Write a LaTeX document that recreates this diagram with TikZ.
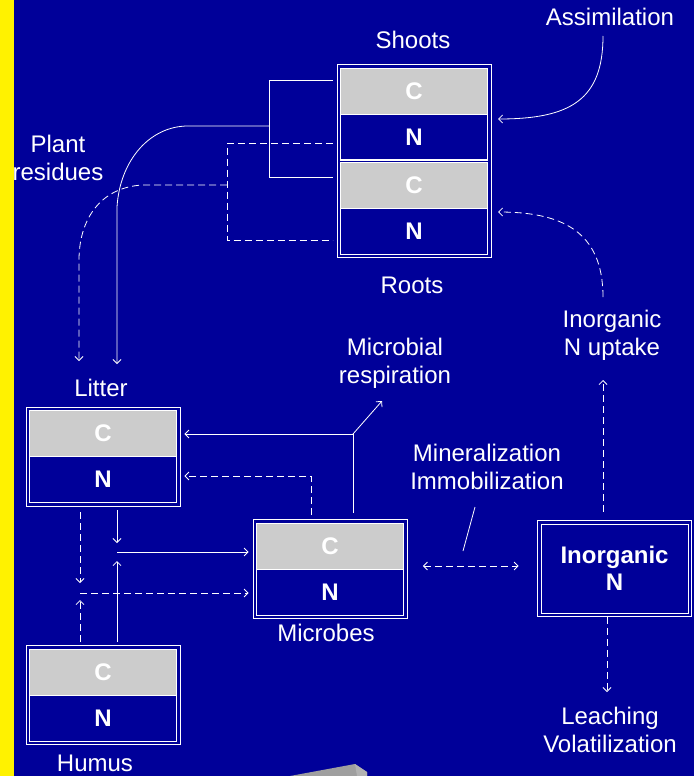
\documentclass[tikz,border=0pt]{standalone}
\usepackage{fontspec}
\setmainfont{Liberation Sans}
\usetikzlibrary{positioning,fit,arrows.meta}
\definecolor{bgblue}{HTML}{000099}
\definecolor{cgray}{HTML}{CCCCCC}
\newcommand\labfont{\fontsize{24}{28}\selectfont}
\newcommand\cellfont{\fontsize{24}{27}\selectfont\bfseries}
\tikzset{
	cellC/.style={draw=white, fill=cgray, line width=0.8pt, minimum width=147pt, minimum height=46pt, inner sep=0pt, outer sep=0pt, font=\cellfont, text=white},
	cellN/.style={cellC, fill=bgblue},
	frame/.style={draw=white, line width=0.8pt, inner sep=3.5pt},
	lab/.style={font=\labfont, text=white, align=center},
	flow/.style={draw=white, line width=0.8pt},
	dflow/.style={flow, dash pattern=on 7pt off 4pt},
}

\begin{document}
\begin{tikzpicture}[x=1pt, y=-1pt, >={Straight Barb[length=4pt,width=8pt]}]
	\useasboundingbox (0,0) rectangle (694,776);
	\fill[bgblue] (0,0) rectangle (694,776);

	% pools
	\node[cellC] (shC) at (414,91) {C};
	\node[cellN, below=0pt of shC] (shN) {N};
	\node[cellC, below=2pt of shN] (roC) {C};
	\node[cellN, below=0pt of roC] (roN) {N};
	\draw[white, line width=2.8pt] (shN.south west) -- (shN.south east);
	\node[frame, fit=(shC)(roN)] (shF) {};

	\node[cellC] (litC) at (103,433.5) {C};
	\node[cellN, below=0pt of litC] (litN) {N};
	\node[frame, fit=(litC)(litN)] (litF) {};

	\node[cellC] (micC) at (330,546) {C};
	\node[cellN, below=0pt of micC] (micN) {N};
	\node[frame, fit=(micC)(micN)] (micF) {};

	\node[cellC] (humC) at (103,672) {C};
	\node[cellN, below=0pt of humC] (humN) {N};
	\node[frame, fit=(humC)(humN)] (humF) {};

	\node[cellN, minimum height=89pt, align=center] (inN) at (614.5,568.5) {Inorganic\\N};
	\node[frame, fit=(inN)] (inF) {};

	% labels
	\node[lab] (assim) at (610,17) {Assimilation};
	\node[lab] (shoots) at (413,40) {Shoots};
	\node[lab] (roots) at (412,285) {Roots};
	\node[lab] (plant) at (58,158) {Plant\\residues};
	\node[lab] (litter) at (101,388) {Litter};
	\node[lab] (resp) at (395,363) {Microbial\\respiration};
	\node[lab] (uptake) at (612,335) {Inorganic\\N uptake};
	\node[lab] (minim) at (487,467) {Mineralization\\Immobilization};
	\node[lab] (microbes) at (326,633) {Microbes};
	\node[lab] (humus) at (95,763) {Humus};
	\node[lab] (leach) at (610,730) {Leaching\\Volatilization};

	% bend points and free ends
	\coordinate (plC) at (269,126);
	\coordinate (plN) at (227,185);
	\coordinate (litCin) at (117,364);
	\coordinate (litNin) at (79,361);
	\coordinate (asSt) at (603,36);
	\coordinate (shIn) at (498,119);
	\coordinate (upSt) at (603,297);
	\coordinate (roIn) at (498,212);
	\coordinate (upTip) at (603,380);
	\coordinate (rsp) at (353,434);
	\coordinate (rspOut) at (382,401);
	\coordinate (imm) at (311,476);
	\coordinate (litDs) at (117,543);
	\coordinate (litDd) at (80,583);
	\coordinate (humUs) at (117,561);
	\coordinate (humUd) at (80,600);
	\coordinate (jS) at (117,552);
	\coordinate (jD) at (80,593);
	\coordinate (mx) at (470,566);
	\coordinate (minTop) at (475,507);
	\coordinate (minBot) at (463,551);
	\coordinate (leTip) at (607,692);

	% plant residues
	\draw[flow] ([xshift=-8pt,yshift=11pt]shC.west) -| ([xshift=-71.5pt,yshift=8pt]roC.west) -- ([xshift=-8pt,yshift=8pt]roC.west);
	\draw[flow,->] (plC) -- (188,126) .. controls (150,126) and (120,160) .. (117,207) -- (litCin);
	\draw[dflow] ([xshift=-8pt,yshift=-6pt]shN.west) -| ([xshift=-113.5pt,yshift=-9pt]roN.west) -- ([xshift=-8pt,yshift=-9pt]roN.west);
	\draw[dflow,->] (plN) -- (143,185) .. controls (100,187) and (79,220) .. (79,260) -- (litNin);

	% plant uptake
	\draw[flow,->] (asSt) .. controls (603,100) and (570,119) .. (shIn);
	\draw[dflow,->] (upSt) .. controls (603,230) and (560,212) .. (roIn);
	\draw[dflow,->] ([xshift=-11.5pt,yshift=8.5pt]inF.north) -- (upTip);

	% microbes
	\draw[flow] ([xshift=23pt,yshift=6pt]micF.north) -- (rsp);
	\draw[flow,->] (rsp) -- (rspOut);
	\draw[flow,->] (rsp) -- ([xshift=4pt]litF.east |- rsp);
	\draw[dflow,->] ([xshift=-19pt,yshift=4pt]micF.north) -- (imm) -- ([xshift=4pt]litF.east |- imm);

	% litter and humus
	\draw[flow,->] ([xshift=14pt,yshift=-4pt]litF.south) -- (litDs);
	\draw[dflow,->] ([xshift=-23pt,yshift=-6pt]litF.south) -- (litDd);
	\draw[flow,->] ([xshift=14pt,yshift=3pt]humF.north) -- (humUs);
	\draw[dflow,->] ([xshift=-23pt,yshift=3pt]humF.north) -- (humUd);
	\draw[flow,->] (jS) -- ([xshift=-4pt]micF.west |- jS);
	\draw[dflow,->] (jD) -- ([xshift=-4pt]micF.west |- jD);

	% inorganic N
	\draw[flow] (minTop) -- (minBot);
	\draw[dflow,<->] ([xshift=15.5pt]micF.east |- mx) -- ([xshift=-18.5pt]inF.west |- mx);
	\draw[dflow,->] ([xshift=-7.5pt]inF.south) -- (leTip);

	% corner shape and side bar
	\fill[gray!75] (290,776) -- (355,764) -- (367,772) -- (367,776) -- cycle;
	\fill[gray!60] (355,764) -- (367,772) -- (367,776) -- (357,776) -- cycle;
	\fill[yellow] (0,0) rectangle (14,776);
\end{tikzpicture}
\end{document}
